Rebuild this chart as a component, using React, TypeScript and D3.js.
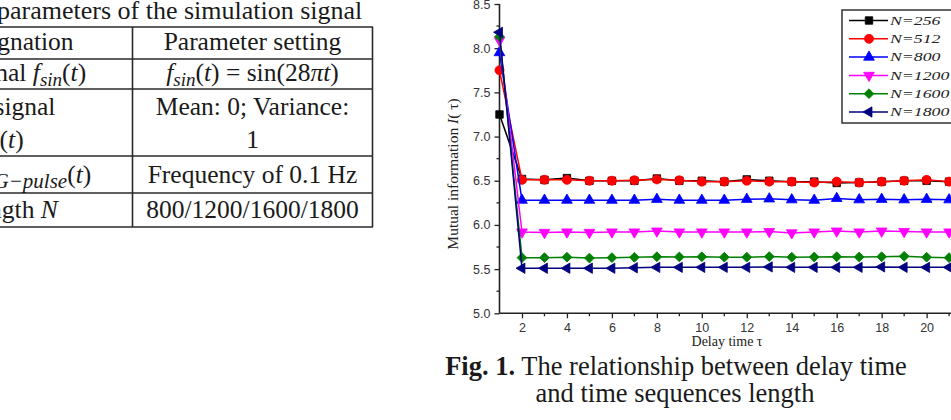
import React, { useEffect, useRef } from 'react';
import * as d3 from 'd3';

// Delay values on the horizontal axis
const delays = [1, 2, 3, 4, 5, 6, 7, 8, 9, 10, 11, 12, 13, 14, 15, 16, 17, 18, 19, 20, 21];

// Mutual information for each sequence length
const mi256 = [7.25, 6.52, 6.51, 6.53, 6.5, 6.5, 6.5, 6.525, 6.5, 6.5, 6.49, 6.515, 6.5, 6.49, 6.49, 6.475, 6.48, 6.49, 6.5, 6.5, 6.49];
const mi512 = [7.75, 6.51, 6.51, 6.51, 6.5, 6.5, 6.505, 6.515, 6.505, 6.49, 6.49, 6.5, 6.49, 6.49, 6.48, 6.49, 6.48, 6.49, 6.5, 6.51, 6.49];
const mi800 = [7.95, 6.28, 6.28, 6.28, 6.28, 6.28, 6.28, 6.29, 6.28, 6.28, 6.28, 6.29, 6.295, 6.285, 6.28, 6.3, 6.285, 6.29, 6.285, 6.29, 6.285];
const mi1200 = [8.09, 5.92, 5.915, 5.92, 5.915, 5.92, 5.92, 5.93, 5.92, 5.92, 5.92, 5.92, 5.925, 5.91, 5.92, 5.93, 5.92, 5.93, 5.925, 5.92, 5.92];
const mi1600 = [8.13, 5.63, 5.63, 5.635, 5.625, 5.63, 5.633, 5.64, 5.638, 5.64, 5.635, 5.635, 5.642, 5.635, 5.637, 5.64, 5.637, 5.64, 5.645, 5.635, 5.63];
const mi1800 = [8.18, 5.51, 5.51, 5.51, 5.51, 5.51, 5.515, 5.52, 5.52, 5.52, 5.52, 5.52, 5.525, 5.52, 5.52, 5.52, 5.52, 5.525, 5.52, 5.52, 5.52];

const seriesNames = ['N=256', 'N=512', 'N=800', 'N=1200', 'N=1600', 'N=1800'];
const seriesColors = ['#000000', '#ff0000', '#0000ff', '#ff00ff', '#008000', '#000080'];
const seriesValues = [mi256, mi512, mi800, mi1200, mi1600, mi1800];
const seriesShapes = ['square', 'circle', 'up', 'down', 'diamond', 'left'];

const yMajorTicks = [5.0, 5.5, 6.0, 6.5, 7.0, 7.5, 8.0, 8.5];
const yMinorTicks = [5.25, 5.75, 6.25, 6.75, 7.25, 7.75, 8.25];
const xMajorTicks = [2, 4, 6, 8, 10, 12, 14, 16, 18, 20, 22];
const xMinorTicks = [3, 5, 7, 9, 11, 13, 15, 17, 19, 21];

const serif = '"Liberation Serif", "Times New Roman", serif';
const sans = '"Liberation Sans", Arial, sans-serif';

function symbolPath(shape: string): { d: string; rotate: number } {
  switch (shape) {
    case 'square':
      return { d: d3.symbol().type(d3.symbolSquare).size(56)()!, rotate: 0 };
    case 'circle':
      return { d: d3.symbol().type(d3.symbolCircle).size(64)()!, rotate: 0 };
    case 'up':
      return { d: d3.symbol().type(d3.symbolTriangle).size(50)()!, rotate: 0 };
    case 'down':
      return { d: d3.symbol().type(d3.symbolTriangle).size(50)()!, rotate: 180 };
    case 'diamond':
      return { d: d3.symbol().type(d3.symbolSquare).size(48)()!, rotate: 45 };
    default:
      return { d: d3.symbol().type(d3.symbolTriangle).size(46)()!, rotate: -90 };
  }
}

function Chart() {
  const ref = useRef<SVGGElement>(null);

  useEffect(() => {
    const g = d3.select(ref.current);
    g.selectAll('*').remove();

    const x = d3.scaleLinear().domain([1, 23]).range([499.5, 499.5 + 22 * 22.48]);
    const y = d3.scaleLinear().domain([5, 8.5]).range([313.3, 4]);

    // axes
    const yAxis = g.append('g').attr('transform', `translate(${x(1)},0)`);
    yAxis.call(
      d3.axisLeft(y).tickValues(yMajorTicks).tickSize(5).tickPadding(4).tickFormat(d3.format('.1f'))
    );
    yAxis.call((s) =>
      s.selectAll('.minor').data(yMinorTicks).join('line')
        .attr('class', 'minor').attr('x1', 0).attr('x2', -3)
        .attr('y1', (d) => y(d)).attr('y2', (d) => y(d))
    );
    const xAxis = g.append('g').attr('transform', `translate(0,${y(5)})`);
    xAxis.call(d3.axisBottom(x).tickValues(xMajorTicks).tickSize(5).tickPadding(5).tickFormat(d3.format('d')));
    xAxis.call((s) =>
      s.selectAll('.minor').data(xMinorTicks).join('line')
        .attr('class', 'minor').attr('y1', 0).attr('y2', 3)
        .attr('x1', (d) => x(d)).attr('x2', (d) => x(d))
    );
    g.selectAll('.domain').attr('stroke', '#222').attr('stroke-width', 1.6);
    g.selectAll('.tick line, line.minor').attr('stroke', '#222').attr('stroke-width', 1.3);
    g.selectAll('.tick text')
      .attr('font-family', sans)
      .attr('font-size', 12.5)
      .attr('fill', '#333');
    yAxis.select('.domain').attr('d', `M0,${y(5)}V${y(8.5)}`);
    xAxis.select('.domain').attr('d', `M${x(1)},0H${x(23)}`);

    // series
    const line = d3.line<number>().x((_, i) => x(delays[i])).y((d) => y(d));
    seriesValues.forEach((vals, si) => {
      const color = seriesColors[si];
      const sg = g.append('g');
      sg.append('path').attr('d', line(vals)!).attr('fill', 'none')
        .attr('stroke', color).attr('stroke-width', 1.5);
      const sym = symbolPath(seriesShapes[si]);
      sg.selectAll('path.mk').data(vals).join('path').attr('class', 'mk')
        .attr('d', sym.d)
        .attr('transform', (d, i) => `translate(${x(delays[i])},${y(d)}) rotate(${sym.rotate})`)
        .attr('fill', color).attr('stroke', color).attr('stroke-width', 0.8);
    });

    // legend
    const lg = g.append('g').attr('transform', 'translate(842,10)');
    lg.append('rect').attr('width', 120).attr('height', 113)
      .attr('fill', '#fff').attr('stroke', '#333').attr('stroke-width', 1.5);
    seriesNames.forEach((name, si) => {
      const cy = 10.5 + si * 18.3;
      const color = seriesColors[si];
      lg.append('line').attr('x1', 7).attr('x2', 46).attr('y1', cy).attr('y2', cy)
        .attr('stroke', color).attr('stroke-width', 1.5);
      const sym = symbolPath(seriesShapes[si]);
      lg.append('path').attr('d', sym.d)
        .attr('transform', `translate(27,${cy}) rotate(${sym.rotate})`)
        .attr('fill', color).attr('stroke', color).attr('stroke-width', 0.8);
      lg.append('text').attr('transform', `translate(48,${cy + 4.3}) scale(1.42,1)`)
        .attr('font-family', serif).attr('font-style', 'italic').attr('font-size', 12.5)
        .attr('fill', '#222').text(name);
    });

    // axis titles
    g.append('text').attr('x', 727).attr('y', 346).attr('text-anchor', 'middle')
      .attr('font-family', serif).attr('font-size', 14).attr('fill', '#222')
      .text('Delay time τ');
    const yl = g.append('text').attr('transform', 'translate(458,174) rotate(-90)')
      .attr('text-anchor', 'middle').attr('font-family', serif).attr('font-size', 15.5).attr('fill', '#222');
    yl.append('tspan').text('Mutual information ');
    yl.append('tspan').attr('font-style', 'italic').text('I');
    yl.append('tspan').text('( τ)');
  }, []);

  return <g ref={ref} />;
}

function Table() {
  const lineColor = '#2a2a2a';
  const rows = [27, 59, 89, 156, 193, 227];
  const c2 = 252.5;
  const fs = 25.5;
  const sub = 19;
  return (
    <g fontFamily={serif} fontSize={fs} fill="#1a1a1a">
      <text x={-3} y={19} fontSize={26}>parameters of the simulation signal</text>
      {rows.map((r) => (
        <line key={r} x1={-20} x2={373} y1={r} y2={r} stroke={lineColor} strokeWidth={1.6} />
      ))}
      <line x1={132.5} x2={132.5} y1={27} y2={227} stroke={lineColor} strokeWidth={1.6} />
      <line x1={372.5} x2={372.5} y1={27} y2={227} stroke={lineColor} strokeWidth={1.6} />

      <text x={12} y={50} textAnchor="middle">Designation</text>
      <text x={c2} y={50} textAnchor="middle">Parameter setting</text>

      <text x={0} y={81} textAnchor="middle">
        <tspan>Sine signal </tspan>
        <tspan fontStyle="italic">f</tspan>
        <tspan fontStyle="italic" fontSize={sub} dy={5}>sin</tspan>
        <tspan dy={-5}>(</tspan>
        <tspan fontStyle="italic">t</tspan>
        <tspan>)</tspan>
      </text>
      <text x={c2} y={81} textAnchor="middle">
        <tspan fontStyle="italic">f</tspan>
        <tspan fontStyle="italic" fontSize={sub} dy={5}>sin</tspan>
        <tspan dy={-5}>(</tspan>
        <tspan fontStyle="italic">t</tspan>
        <tspan>) = sin(28</tspan>
        <tspan fontStyle="italic">πt</tspan>
        <tspan>)</tspan>
      </text>

      <text x={-8} y={115} textAnchor="middle">Noise signal</text>
      <text x={-12} y={148} textAnchor="middle">
        <tspan fontStyle="italic">f</tspan>
        <tspan fontStyle="italic" fontSize={sub} dy={5}>noise</tspan>
        <tspan dy={-5}>(</tspan>
        <tspan fontStyle="italic">t</tspan>
        <tspan>)</tspan>
      </text>
      <text x={c2} y={115} textAnchor="middle">Mean: 0; Variance:</text>
      <text x={c2} y={148} textAnchor="middle">1</text>

      <text x={8} y={183} textAnchor="middle">
        <tspan>Pulse </tspan>
        <tspan fontStyle="italic">f</tspan>
        <tspan fontStyle="italic" fontSize={sub + 2} dy={5}>G−pulse</tspan>
        <tspan dy={-5}>(</tspan>
        <tspan fontStyle="italic">t</tspan>
        <tspan>)</tspan>
      </text>
      <text x={c2} y={183} textAnchor="middle">Frequency of 0.1 Hz</text>

      <text x={10} y={218} textAnchor="middle">
        <tspan>Length </tspan>
        <tspan fontStyle="italic">N</tspan>
      </text>
      <text x={c2} y={218} textAnchor="middle">800/1200/1600/1800</text>
    </g>
  );
}

export default function App() {
  return (
    <svg
      width={951}
      height={420}
      viewBox="0 0 951 420"
      style={{ position: 'absolute', left: 0, top: 0, background: '#fff', overflow: 'hidden' }}
    >
      <rect width={951} height={420} fill="#fff" />
      <Table />
      <Chart />
      <text x={676} y={375} textAnchor="middle" fontFamily={serif} fontSize={26.5} fill="#1a1a1a">
        <tspan fontWeight="bold">Fig. 1.</tspan>
        <tspan> The relationship between delay time</tspan>
      </text>
      <text x={675} y={402} textAnchor="middle" fontFamily={serif} fontSize={26.5} fill="#1a1a1a">
        and time sequences length
      </text>
    </svg>
  );
}
